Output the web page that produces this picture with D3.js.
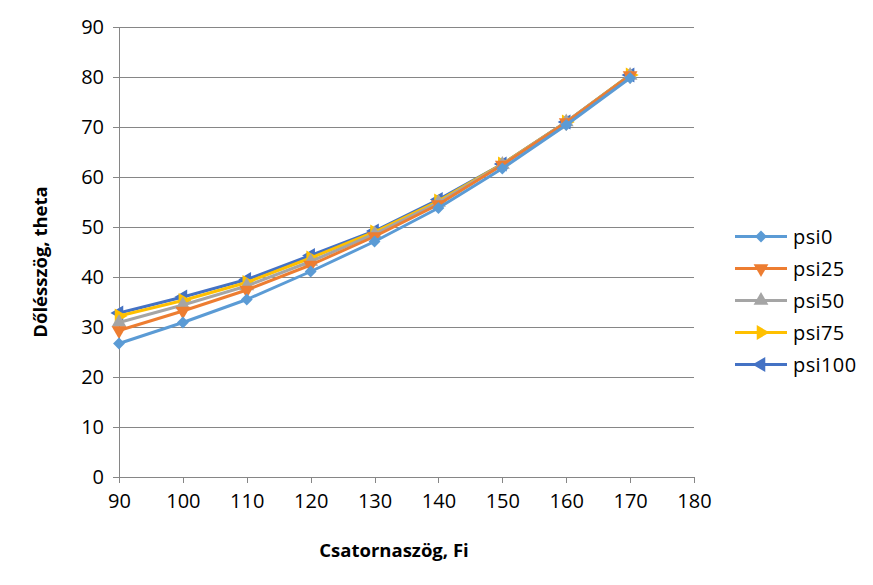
<!DOCTYPE html>
<html><head><meta charset="utf-8">
<script src="https://cdn.jsdelivr.net/npm/d3@7"></script>
<style>body{margin:0;background:#fff;} text{font-family:"Open Sans","Noto Sans",sans-serif;}</style>
</head><body>
<svg id="c" width="873" height="585"></svg>
<script>
const xValues = [90,100,110,120,130,140,150,160,170];
const seriesNames = ["psi0","psi25","psi50","psi75","psi100"];
const psi0   = [26.7,30.9,35.5,41.1,47.1,53.8,61.7,70.4,79.8];
const psi25  = [29.3,33.2,37.4,42.4,48.1,54.5,62.4,70.9,80.3];
const psi50  = [30.9,34.4,38.2,43.1,48.6,54.9,62.5,71.0,80.3];
const psi75  = [32.2,35.3,38.9,43.8,49.0,55.2,62.6,71.0,80.4];
const psi100 = [32.8,36.0,39.5,44.3,49.2,55.5,62.6,71.0,80.4];
const seriesValues = [psi0, psi25, psi50, psi75, psi100];
const colors = ["#5B9BD5","#ED7D31","#A5A5A5","#FFC000","#4472C4"];
const xTicks = [90,100,110,120,130,140,150,160,170,180];
const yTicks = [0,10,20,30,40,50,60,70,80,90];

const svg = d3.select("#c");
const x = d3.scaleLinear().domain([90,180]).range([119,694]);
const y = d3.scaleLinear().domain([0,90]).range([477,27]);

// gridlines
svg.append("g").selectAll("line").data(yTicks.slice(1)).join("line")
  .attr("x1",x(90)).attr("x2",x(180)).attr("y1",d=>y(d)).attr("y2",d=>y(d))
  .attr("stroke","#868686").attr("stroke-width",1).attr("shape-rendering","crispEdges");

// axes
const xAxis = svg.append("g").attr("transform",`translate(0,${y(0)})`)
  .call(d3.axisBottom(x).tickValues(xTicks).tickSize(6).tickSizeOuter(0).tickPadding(11));
const yAxis = svg.append("g").attr("transform",`translate(${x(90)},0)`)
  .call(d3.axisLeft(y).tickValues(yTicks).tickSize(6).tickSizeOuter(0).tickPadding(9));
[xAxis,yAxis].forEach(a=>{
  a.selectAll("path,line").attr("stroke","#868686").attr("shape-rendering","crispEdges");
  a.selectAll("text").attr("font-size","20px").attr("fill","#000")
   .style("font-family","'Open Sans','Noto Sans',sans-serif");
});

// symbols
function symPath(i){
  const tri = d3.symbol().type(d3.symbolTriangle).size(95)();
  const dia = d3.symbol().type(d3.symbolSquare).size(70)();
  return [dia, tri, tri, tri, tri][i];
}
const rot = [45,180,0,90,-90];

const line = d3.line().x((d,i)=>x(xValues[i])).y(d=>y(d));
for (let s = seriesNames.length-1; s >= 0; s--) {
  const g = svg.append("g");
  g.append("path").datum(seriesValues[s]).attr("d",line)
    .attr("fill","none").attr("stroke",colors[s]).attr("stroke-width",3).attr("stroke-linejoin","round");
  g.selectAll("path.m").data(seriesValues[s]).join("path").attr("class","m")
    .attr("d",symPath(s))
    .attr("transform",(d,i)=>`translate(${x(xValues[i])},${y(d)}) rotate(${rot[s]})`)
    .attr("fill",colors[s]);
}

// legend
const lg = svg.append("g");
seriesNames.forEach((n,i)=>{
  const yy = 236.5 + i*32;
  lg.append("line").attr("x1",735).attr("x2",787).attr("y1",yy).attr("y2",yy)
    .attr("stroke",colors[i]).attr("stroke-width",3);
  lg.append("path").attr("d",symPath(i))
    .attr("transform",`translate(761,${yy}) rotate(${rot[i]})`).attr("fill",colors[i]);
  lg.append("text").attr("x",793).attr("y",yy+7).attr("font-size","20px")
    .attr("letter-spacing","0.4px").text(n);
});

// axis titles
svg.append("text").attr("x",394).attr("y",557).attr("text-anchor","middle")
  .attr("font-size","18.5px").attr("font-weight","bold").text("Csatornaszög, Fi");
svg.append("text").attr("transform","translate(47,262) rotate(-90)").attr("text-anchor","middle")
  .attr("font-size","18.5px").attr("font-weight","bold").text("Dőlésszög, theta");
</script>
</body></html>
